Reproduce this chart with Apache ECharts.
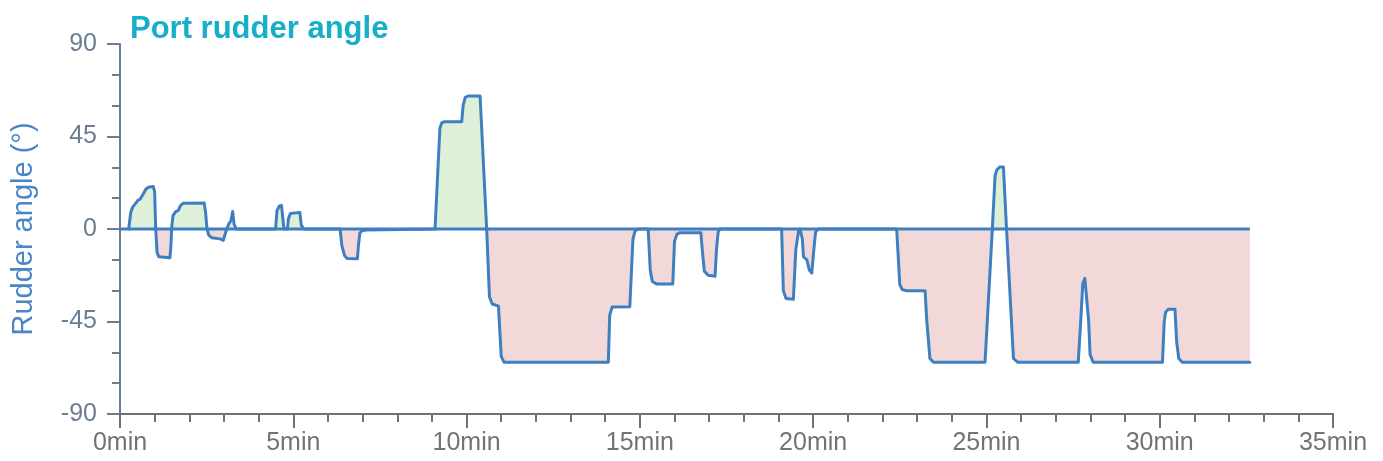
<!DOCTYPE html>
<html>
<head>
<meta charset="utf-8">
<script src="https://cdn.jsdelivr.net/npm/echarts@6/dist/echarts.min.js"></script>
<style>
html,body{margin:0;padding:0;background:#fff;}
#chart{width:1383px;height:461px;}
</style>
</head>
<body>
<div id="chart"></div>
<script>
// Time in minutes
var times = [0.25,0.27,0.31,0.36,0.45,0.52,0.58,0.67,0.75,0.82,0.96,1.00,1.03,1.07,1.12,1.44,1.47,1.49,1.50,1.53,1.60,1.68,1.75,1.82,2.43,2.47,2.51,2.56,2.65,2.89,2.98,3.03,3.08,3.14,3.20,3.25,3.29,3.35,
  4.49,4.53,4.60,4.66,4.70,4.73,4.83,4.86,4.92,5.19,5.23,5.30,
  6.35,6.40,6.48,6.55,6.85,6.88,6.92,6.98,7.10,7.14,
  9.09,9.23,9.28,9.35,9.86,9.90,9.96,10.05,10.39,10.58,10.66,10.74,10.92,11.00,11.08,
  14.09,14.13,14.20,14.71,14.80,14.86,14.95,15.24,15.30,15.36,15.48,15.95,16.00,16.07,16.16,16.76,16.80,16.86,16.97,17.17,17.21,17.26,17.31,
  19.09,19.14,19.22,19.43,19.50,19.58,19.62,19.65,19.67,19.69,19.72,19.82,19.89,19.96,20.02,20.07,20.15,
  22.41,22.50,22.57,22.70,23.23,23.28,23.37,23.47,24.96,25.17,25.25,25.30,25.39,25.49,25.58,25.78,25.90,
  27.65,27.72,27.78,27.84,27.88,27.95,27.99,28.08,30.08,30.13,30.17,30.25,30.44,30.49,30.55,30.65,32.60];
// Port rudder angle in degrees
var angles = [0,0,8,10.5,12.5,14,14.5,17,19.5,20.3,20.7,18,0,-11.5,-13.5,-14,-8,0,2,6.5,8.3,9,11.5,12.5,12.6,8,0,-3,-4.3,-4.8,-5.5,-6.2,0,2.5,4,8.5,2.5,0,
  0,9,11.2,11.5,5,0,0,5,7.6,8,2,0,
  0,-8,-13,-14.3,-14.5,-8,-2,-0.8,-0.5,0,
  0,49,51.5,52.2,52.2,60,64,64.7,64.7,0,-33,-36.5,-37.5,-62,-64.8,
  -64.8,-42,-38,-37.8,-5,-1,0,0,-20,-25.5,-26.7,-26.7,-6,-2.5,-1.8,-1.8,-10,-20.5,-22.5,-23,-10,-1.5,0,
  0,-30,-33.8,-34.2,-10,-1,0,0.8,0,-5,-13.5,-15,-20,-21.5,-10,-1.5,0,
  0,-27,-29.5,-30,-30.1,-45,-63,-64.8,-64.8,0,26,28.8,30.2,30.2,0,-63,-64.8,
  -64.8,-45,-26.5,-24,-24,-45,-61,-64.8,-64.8,-45,-40.5,-39,-39,-55,-63,-64.8,-64.8];
var zeroLineTimes = [0, 32.60];
var zeroLineValues = [0, 0];
var xTicks = [0,5,10,15,20,25,30,35];
var yTicks = [-90,-45,0,45,90];

var lineColor = '#3d7fc1';
var font = 'Liberation Sans, Arial, sans-serif';

var mainData = times.map(function(t,i){return [t, angles[i]];});
var posData = times.map(function(t,i){return [t, Math.max(angles[i], 0)];});
var negData = times.map(function(t,i){return [t, Math.min(angles[i], 0)];});
var zeroData = zeroLineTimes.map(function(t,i){return [t, zeroLineValues[i]];});

var chart = echarts.init(document.getElementById('chart'));
chart.setOption({
  animation: false,
  backgroundColor: '#ffffff',
  title: {
    text: 'Port rudder angle',
    left: 125, top: 9,
    textStyle: {color: '#17aec9', fontSize: 31, fontWeight: 'bold', fontFamily: font}
  },
  grid: {left: 120, right: 50, top: 44, bottom: 47},
  xAxis: {
    type: 'value', min: xTicks[0], max: xTicks[xTicks.length-1], interval: 5,
    axisLine: {show: true, onZero: false, lineStyle: {color: '#707070', width: 2}},
    axisTick: {show: true, length: 14, lineStyle: {color: '#707070', width: 2}},
    minorTick: {show: true, splitNumber: 5, length: 8, lineStyle: {color: '#707070', width: 2}},
    splitLine: {show: false},
    axisLabel: {color: '#737373', fontSize: 25, fontFamily: font, margin: 17,
      formatter: function(v){return v + 'min';}}
  },
  yAxis: {
    type: 'value', min: yTicks[0], max: yTicks[yTicks.length-1], interval: 45,
    name: 'Rudder angle (°)', nameLocation: 'middle', nameGap: 82,
    nameTextStyle: {color: '#4a86c5', fontSize: 29, fontFamily: font, padding: [0, 0, 0, 0]},
    axisLine: {show: true, onZero: false, lineStyle: {color: '#6b7d93', width: 2}},
    axisTick: {show: true, length: 13, lineStyle: {color: '#6b7d93', width: 2}},
    minorTick: {show: true, splitNumber: 3, length: 8, lineStyle: {color: '#6b7d93', width: 2}},
    splitLine: {show: false},
    axisLabel: {color: '#6b7d93', fontSize: 25, fontFamily: font, margin: 23}
  },
  series: [
    {
      type: 'line', data: posData, showSymbol: false, symbol: 'none',
      lineStyle: {width: 0, opacity: 0},
      areaStyle: {color: '#dff0d8', opacity: 1, origin: 0},
      z: 1
    },
    {
      type: 'line', data: negData, showSymbol: false, symbol: 'none',
      lineStyle: {width: 0, opacity: 0},
      areaStyle: {color: '#f2d8d9', opacity: 1, origin: 0},
      z: 1
    },
    {
      type: 'line', data: mainData, showSymbol: false, symbol: 'none',
      lineStyle: {color: lineColor, width: 3, join: 'round', cap: 'round'},
      z: 3
    },
    {
      type: 'line', data: zeroData, showSymbol: false, symbol: 'none',
      lineStyle: {color: lineColor, width: 3},
      z: 4
    }
  ]
});
</script>
</body>
</html>
